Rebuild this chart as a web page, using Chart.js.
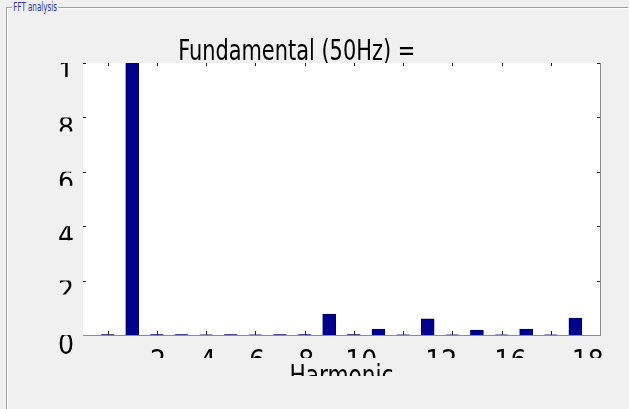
<!DOCTYPE html>
<html>
<head>
<meta charset="utf-8">
<script src="https://cdn.jsdelivr.net/npm/chart.js@4"></script>
<style>
  html, body { margin: 0; padding: 0; background: #f0f0f0; }
  #wrap { position: relative; width: 629px; height: 409px; overflow: hidden; }
  #frame { position: absolute; left: 6px; top: 7px; width: 621px; height: 420px;
           border-top: 1px solid #a0a0a0; border-left: 1px solid #a0a0a0;
           box-shadow: inset 1px 1px 0 #ffffff; }
  #legend { position: absolute; left: 12px; top: 0px; padding: 0 2px; background: #f0f0f0;
            font: 12px 'Liberation Sans Narrow', 'DejaVu Sans Condensed', 'Liberation Sans', sans-serif;
            color: #2b2bb0; transform: scaleX(0.66); transform-origin: left top; }
  canvas { position: absolute; left: 0; top: 0; }
</style>
</head>
<body>
<div id="wrap">
  <div id="frame"></div>
  <span id="legend">FFT analysis</span>
  <canvas id="fft" width="629" height="409"></canvas>
</div>
<script>
  // Harmonic order and magnitude (relative to fundamental)
  const harmonics = [0, 1, 2, 3, 4, 5, 6, 7, 8, 9, 10, 11, 12, 13, 14, 15, 16, 17, 18, 19];
  const magnitudes = [0.002, 1.0, 0.002, 0.002, 0.001, 0.002, 0.001, 0.002, 0.002, 0.077,
                      0.002, 0.022, 0.001, 0.059, 0.001, 0.018, 0.001, 0.022, 0.001, 0.062];

  // tick marks (where MATLAB draws them) and the labels as they appear in the picture
  const xTickVals = [0, 2, 4, 6, 8, 10, 12, 14, 16, 18];
  const xLabelPos = [2.05, 4.08, 6.07, 8.07, 10.3, 13.55, 16.36, 19.5];
  const xLabelText = ['2', '4', '6', '8', '10', '12', '16', '18'];
  const yTickVals = [0, 0.2, 0.4, 0.6, 0.8, 1];
  const yLabelText = ['0', '2', '4', '6', '8', '1'];

  const FONT = "'Liberation Sans Narrow', 'DejaVu Sans Condensed', 'Liberation Sans', Arial, sans-serif";

  // draw a scale method inside a clip path (labels in the reference are cut off),
  // optionally squashed horizontally around the scale centre
  function clipMethod(scale, method, rectsFn, squash) {
    const orig = Object.getPrototypeOf(scale)[method];
    scale[method] = function (area) {
      const ctx = this.ctx;
      ctx.save();
      ctx.beginPath();
      rectsFn(this).forEach(r => ctx.rect(r[0], r[1], r[2], r[3]));
      ctx.clip();
      if (squash) {
        const cx = (this.left + this.right) / 2;
        ctx.translate(cx, 0);
        ctx.scale(squash, 1);
        ctx.translate(-cx, 0);
      }
      orig.call(this, area);
      ctx.restore();
    };
  }

  const axesBox = {
    id: 'axesBox',
    afterLayout(chart) {
      const { x, y } = chart.scales;
      clipMethod(x, 'drawLabels', () => [[0, 0, 629, 358]]);
      clipMethod(x, 'drawTitle', () => [[0, 0, 629, 376]], 0.86);
      clipMethod(y, 'drawLabels', s => yTickVals.map(v => {
        const py = s.getPixelForValue(v);
        return [0, py, s.right + 4, v === 0 ? 30 : 14];
      }));
      // title glyphs in the reference are tall and narrow
      const tb = chart.titleBlock;
      if (tb && !tb._squashed) {
        const origDraw = tb.draw;
        tb.draw = function () {
          const ctx = this.ctx;
          const cx = (this.left + this.right) / 2;
          ctx.save();
          ctx.translate(cx, 0);
          ctx.scale(0.83, 1);
          ctx.translate(-cx, 0);
          origDraw.apply(this, arguments);
          ctx.restore();
        };
        tb._squashed = true;
      }
    },
    beforeDatasetsDraw(chart) {
      const { ctx, chartArea: a } = chart;
      ctx.save();
      ctx.fillStyle = '#ffffff';
      ctx.fillRect(a.left, a.top, a.right - a.left, a.bottom - a.top);
      ctx.restore();
    },
    afterDatasetsDraw(chart) {
      const { ctx, chartArea: a, scales: { x, y } } = chart;
      ctx.save();
      ctx.strokeStyle = '#222222';
      ctx.lineWidth = 1;
      ctx.beginPath();
      xTickVals.forEach(v => {
        const px = Math.round(x.getPixelForValue(v)) + 0.5;
        ctx.moveTo(px, a.bottom); ctx.lineTo(px, a.bottom - 4);
        ctx.moveTo(px, a.top); ctx.lineTo(px, a.top + 3);
      });
      yTickVals.forEach(v => {
        const py = Math.round(y.getPixelForValue(v)) + 0.5;
        ctx.moveTo(a.left, py); ctx.lineTo(a.left + 3, py);
        ctx.moveTo(a.right, py); ctx.lineTo(a.right - 3, py);
      });
      ctx.stroke();
      ctx.strokeStyle = '#8c8c8c';
      ctx.beginPath();
      ctx.moveTo(a.left, Math.round(a.bottom) + 0.5);
      ctx.lineTo(a.right + 1, Math.round(a.bottom) + 0.5);
      ctx.moveTo(Math.round(a.right) + 0.5, a.top);
      ctx.lineTo(Math.round(a.right) + 0.5, a.bottom);
      ctx.stroke();
      ctx.restore();
    }
  };

  new Chart(document.getElementById('fft'), {
    type: 'bar',
    data: {
      datasets: [{
        data: harmonics.map((h, i) => ({ x: h, y: magnitudes[i] })),
        backgroundColor: '#00008f',
        borderColor: '#00005a',
        borderWidth: 1,
        barThickness: 13,
      }]
    },
    options: {
      responsive: false,
      animation: false,
      devicePixelRatio: 1,
      layout: { padding: { left: 0, right: 29, top: 0, bottom: 0 } },
      plugins: {
        legend: { display: false },
        tooltip: { enabled: false },
        title: {
          display: true,
          text: 'Fundamental (50Hz) = ',
          color: '#000000',
          font: { family: FONT, size: 28, weight: 'normal' },
          padding: { top: 36, bottom: -6.6 },
        },
      },
      scales: {
        x: {
          type: 'linear',
          min: -1,
          max: 20,
          offset: false,
          grid: { display: false },
          border: { display: false },
          afterBuildTicks: s => { s.ticks = xLabelPos.map(v => ({ value: v })); },
          afterFit: s => { s.height = 74; },
          ticks: {
            autoSkip: false,
            maxRotation: 0,
            padding: 3,
            color: '#000000',
            font: { family: FONT, size: 28 },
            callback: (v, i) => xLabelText[i],
          },
          title: {
            display: true,
            text: 'Harmonic',
            color: '#000000',
            font: { family: FONT, size: 28 },
            padding: { top: 0, bottom: 14 },
          },
        },
        y: {
          min: 0,
          max: 1,
          grid: { display: false },
          border: { display: false },
          afterBuildTicks: s => { s.ticks = yTickVals.map(v => ({ value: v })); },
          afterFit: s => { s.width = 83; },
          ticks: {
            padding: 1,
            labelOffset: 12,
            color: '#000000',
            font: { family: FONT, size: 28 },
            callback: (v, i) => yLabelText[i],
          },
        },
      },
    },
    plugins: [axesBox],
  });
</script>
</body>
</html>
